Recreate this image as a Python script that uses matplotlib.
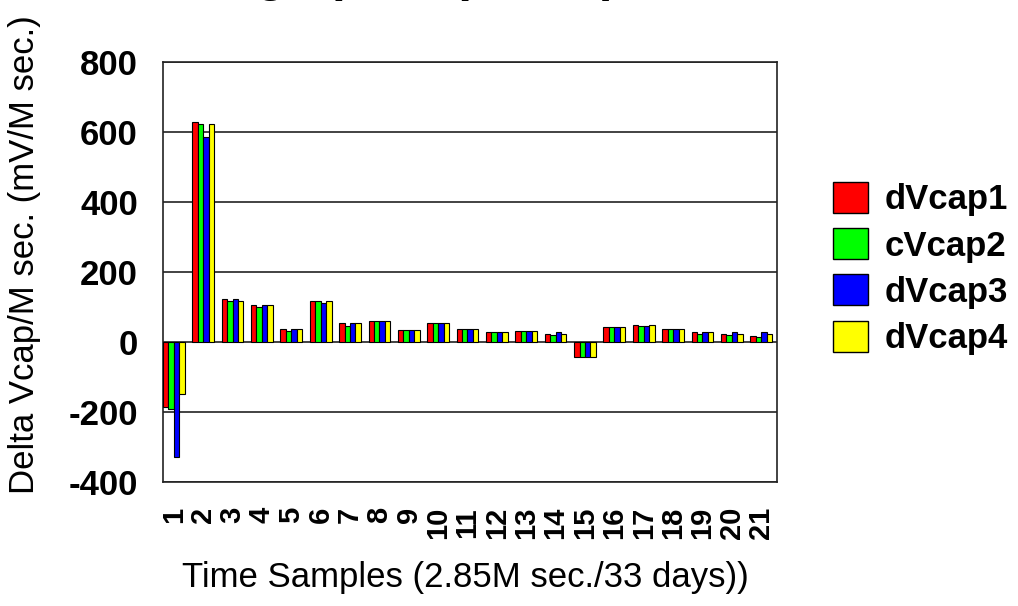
import numpy as np
import matplotlib
matplotlib.use("Agg")
import matplotlib.pyplot as plt
from matplotlib.patches import Patch

plt.rcParams['font.family'] = ['Liberation Sans', 'DejaVu Sans']

# time samples (x categories)
samples = [str(i) for i in range(1, 22)]

# delta Vcap per sample (mV/M sec.)
dvcap1 = [-186, 629, 123, 106, 38, 117, 54, 60, 33, 54, 38, 28, 32, 22, -44, 43, 49, 38, 28, 22, 16]
cvcap2 = [-191, 624, 117, 100, 31, 117, 47, 60, 33, 54, 38, 28, 32, 19, -44, 43, 46, 38, 22, 20, 14]
dvcap3 = [-329, 587, 123, 106, 38, 112, 54, 60, 33, 54, 38, 28, 32, 28, -44, 43, 46, 38, 28, 28, 28]
dvcap4 = [-148, 624, 117, 106, 38, 117, 53, 60, 33, 54, 38, 28, 32, 22, -44, 43, 49, 38, 28, 22, 22]

series_names = ["dVcap1", "cVcap2", "dVcap3", "dVcap4"]
series_colors = ["#ff0000", "#00ff00", "#0000ff", "#ffff00"]
y_ticks = [-400, -200, 0, 200, 400, 600, 800]

fig = plt.figure(figsize=(10.18, 6.06), dpi=100)
ax = fig.add_axes([0.1601, 0.2046, 0.6032, 0.6931])

x = np.arange(1, len(samples) + 1)
bw = 0.185
for k, (vals, col) in enumerate(zip([dvcap1, cvcap2, dvcap3, dvcap4], series_colors)):
    ax.bar(x + (k - 1.5) * bw, vals, width=bw, color=col,
           edgecolor="black", linewidth=0.8, zorder=3)

ax.set_xlim(0.632, 21.54)
ax.set_ylim(-400, 800)
ax.set_yticks(y_ticks)
ax.set_yticklabels([str(v) for v in y_ticks], fontsize=25, fontweight="bold")
ax.set_xticks(x)
ax.set_xticklabels(samples, rotation=90, fontsize=21, fontweight="bold")
ax.tick_params(axis="y", length=0, pad=18)
ax.tick_params(axis="x", length=0, pad=18)

ax.yaxis.grid(True, color="#222222", linewidth=1.2, zorder=1)
ax.set_axisbelow(True)
for s in ax.spines.values():
    s.set_color("#222222")
    s.set_linewidth(1.2)

# title sits above the image edge, only its descenders show
fig.text(0.45, 1 + 9 / 606, "Voltage (Delta) Comparison", ha="center",
         va="baseline", fontsize=35, fontweight="bold")

fig.text(25 / 1018, 1 - 255 / 606, "Delta Vcap/M sec. (mV/M sec.)",
         rotation=90, ha="center", va="center", fontsize=25)
fig.text(465 / 1018, 1 - 578 / 606, "Time Samples (2.85M sec./33 days))",
         ha="center", va="center", fontsize=25)

handles = [Patch(facecolor=c, edgecolor="black", linewidth=1.0) for c in series_colors]
fig.legend(handles, series_names, loc="center left",
           bbox_to_anchor=(833 / 1018, 1 - 268.5 / 606),
           frameon=False, borderpad=0, borderaxespad=0,
           handlelength=1.0, handleheight=1.0, handletextpad=0.5,
           labelspacing=0.34, prop={"size": 25, "weight": "bold"})

fig.savefig("out.png", dpi=100)
